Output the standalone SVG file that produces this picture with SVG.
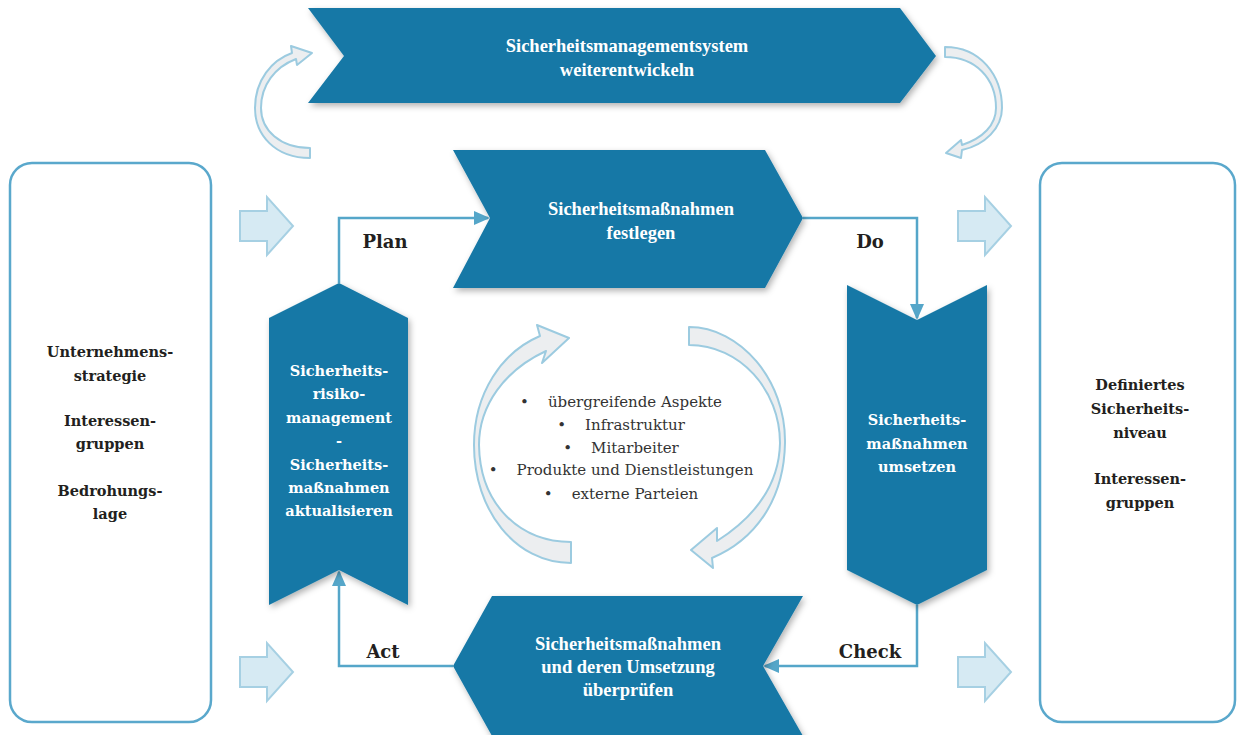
<svg xmlns="http://www.w3.org/2000/svg" width="1237" height="735" viewBox="0 0 1237 735">
<defs>
<style>
.chev{fill:#1778a6;filter:url(#sh);}
.wt{font-family:"Liberation Serif","Times New Roman",serif;font-weight:bold;font-size:18.5px;fill:#ffffff;text-anchor:middle;}
.wv{font-family:"DejaVu Serif",serif;font-weight:bold;font-size:14.5px;fill:#ffffff;text-anchor:middle;}
.bt{font-family:"DejaVu Serif",serif;font-weight:bold;font-size:14.5px;fill:#231f20;text-anchor:middle;}
.lbl{font-family:"DejaVu Serif",serif;font-weight:bold;font-size:18px;fill:#231f20;text-anchor:middle;}
.lst{font-family:"DejaVu Serif",serif;font-size:15px;fill:#333333;text-anchor:middle;}
.box{fill:#ffffff;stroke:#5aa8cc;stroke-width:2.5;}
.blk{fill:#d6eaf3;stroke:#a6d0e3;stroke-width:2;}
.cur{fill:#eceef0;stroke:#9ccbe0;stroke-width:2;stroke-linejoin:round;}
.con{fill:none;stroke:#55a6c9;stroke-width:2.5;}
</style>
<filter id="sh" x="-10%" y="-10%" width="125%" height="130%">
<feDropShadow dx="2" dy="3" stdDeviation="3" flood-color="#000000" flood-opacity="0.3"/>
</filter>
<marker id="ah" markerUnits="userSpaceOnUse" markerWidth="16" markerHeight="14" refX="14" refY="7" orient="auto">
<path d="M0,0 L16,7 L0,14 Z" fill="#55a6c9"/>
</marker>
</defs>

<g id="connectors">
<path class="con" d="M339,283 V218 H488" marker-end="url(#ah)"/>
<path class="con" d="M803,218 H917 V318" marker-end="url(#ah)"/>
<path class="con" d="M917,605 V666 H765" marker-end="url(#ah)"/>
<path class="con" d="M453,666 H339 V572" marker-end="url(#ah)"/>
</g>

<g id="box-left">
<rect class="box" x="10" y="163" width="201" height="559" rx="22"/>
<text class="bt" x="110" y="357">Unternehmens-</text>
<text class="bt" x="110" y="381">strategie</text>
<text class="bt" x="110" y="426">Interessen-</text>
<text class="bt" x="110" y="449">gruppen</text>
<text class="bt" x="110" y="496">Bedrohungs-</text>
<text class="bt" x="110" y="519">lage</text>
</g>

<g id="box-right">
<rect class="box" x="1040" y="163" width="195" height="559" rx="22"/>
<text class="bt" x="1140" y="390">Definiertes</text>
<text class="bt" x="1140" y="414">Sicherheits-</text>
<text class="bt" x="1140" y="438">niveau</text>
<text class="bt" x="1140" y="484">Interessen-</text>
<text class="bt" x="1140" y="508">gruppen</text>
</g>

<g id="block-arrows">
<path class="blk" d="M240,211 H267 V197 L293,226 L267,255 V241 H240 Z"/>
<path class="blk" d="M240,657 H267 V643 L293,672 L267,701 V687 H240 Z"/>
<path class="blk" d="M958,211 H985 V197 L1011,226 L985,255 V241 H958 Z"/>
<path class="blk" d="M958,657 H985 V643 L1011,672 L985,701 V687 H958 Z"/>
</g>

<g id="cycle-arrows">
<path class="cur" d="M310,158 C275,158 255,135 255,108 C255,80 272,60 292,53 L291,46 L312,53 L297,65 L296,59 C275,67 261,85 261,108 C261,130 280,148 310,148 Z"/>
<path class="cur" d="M945,47 C980,47 1002,75 1002,108 C1002,128 985,145 962,150 L961,158 L946,153 L961,140 L962,145 C983,138 996,125 996,108 C996,78 975,57 945,57 Z"/>
<path class="cur" d="M571,563 C515,563 474,510 474,445 C474,393 502,352 540,336 L537,325 L569,338 L542,363 L546,351 C505,370 479,405 479,445 C480,505 520,542 571,542 Z"/>
<path class="cur" d="M689,327 C740,327 786,380 785,443 C784,500 755,540 712,558 L713,568 L691,550 L717,528 L717,541 C750,520 779,490 780,443 C780,390 740,345 689,345 Z"/>
</g>

<g id="aspects">
<text class="lst" x="621" y="407">•&#160;&#160;&#160;&#160;übergreifende Aspekte</text>
<text class="lst" x="621" y="430">•&#160;&#160;&#160;&#160;Infrastruktur</text>
<text class="lst" x="621" y="453">•&#160;&#160;&#160;&#160;Mitarbeiter</text>
<text class="lst" x="621" y="475">•&#160;&#160;&#160;&#160;Produkte und Dienstleistungen</text>
<text class="lst" x="621" y="499">•&#160;&#160;&#160;&#160;externe Parteien</text>
</g>

<g id="node-weiterentwickeln">
<polygon class="chev" points="308,8 900,8 936,56 900,103 308,103 344,56"/>
<text class="wt" x="627" y="52">Sicherheitsmanagementsystem</text>
<text class="wt" x="627" y="76">weiterentwickeln</text>
</g>

<g id="node-festlegen">
<polygon class="chev" points="453,150 765,150 803,218 765,288 453,288 490,218"/>
<text class="wt" x="641" y="215">Sicherheitsmaßnahmen</text>
<text class="wt" x="641" y="239">festlegen</text>
</g>

<g id="node-umsetzen">
<polygon class="chev" points="847,285 917,320 987,285 987,570 917,605 847,570"/>
<text class="wv" x="917" y="425">Sicherheits-</text>
<text class="wv" x="917" y="449">maßnahmen</text>
<text class="wv" x="917" y="472">umsetzen</text>
</g>

<g id="node-ueberpruefen">
<polygon class="chev" points="492,596 803,596 763,666 803,736 492,736 453,666"/>
<text class="wt" x="628" y="650">Sicherheitsmaßnahmen</text>
<text class="wt" x="628" y="673">und deren Umsetzung</text>
<text class="wt" x="628" y="696">überprüfen</text>
</g>

<g id="node-aktualisieren">
<polygon class="chev" points="269,318 339,283 408,318 408,605 339,570 269,605"/>
<text class="wv" x="339" y="376">Sicherheits-</text>
<text class="wv" x="339" y="399">risiko-</text>
<text class="wv" x="339" y="423">management</text>
<text class="wv" x="339" y="446">-</text>
<text class="wv" x="339" y="470">Sicherheits-</text>
<text class="wv" x="339" y="493">maßnahmen</text>
<text class="wv" x="339" y="516">aktualisieren</text>
</g>

<g id="labels">
<text class="lbl" x="385" y="248">Plan</text>
<text class="lbl" x="870" y="248">Do</text>
<text class="lbl" x="383" y="658">Act</text>
<text class="lbl" x="870" y="658">Check</text>
</g>
</svg>
